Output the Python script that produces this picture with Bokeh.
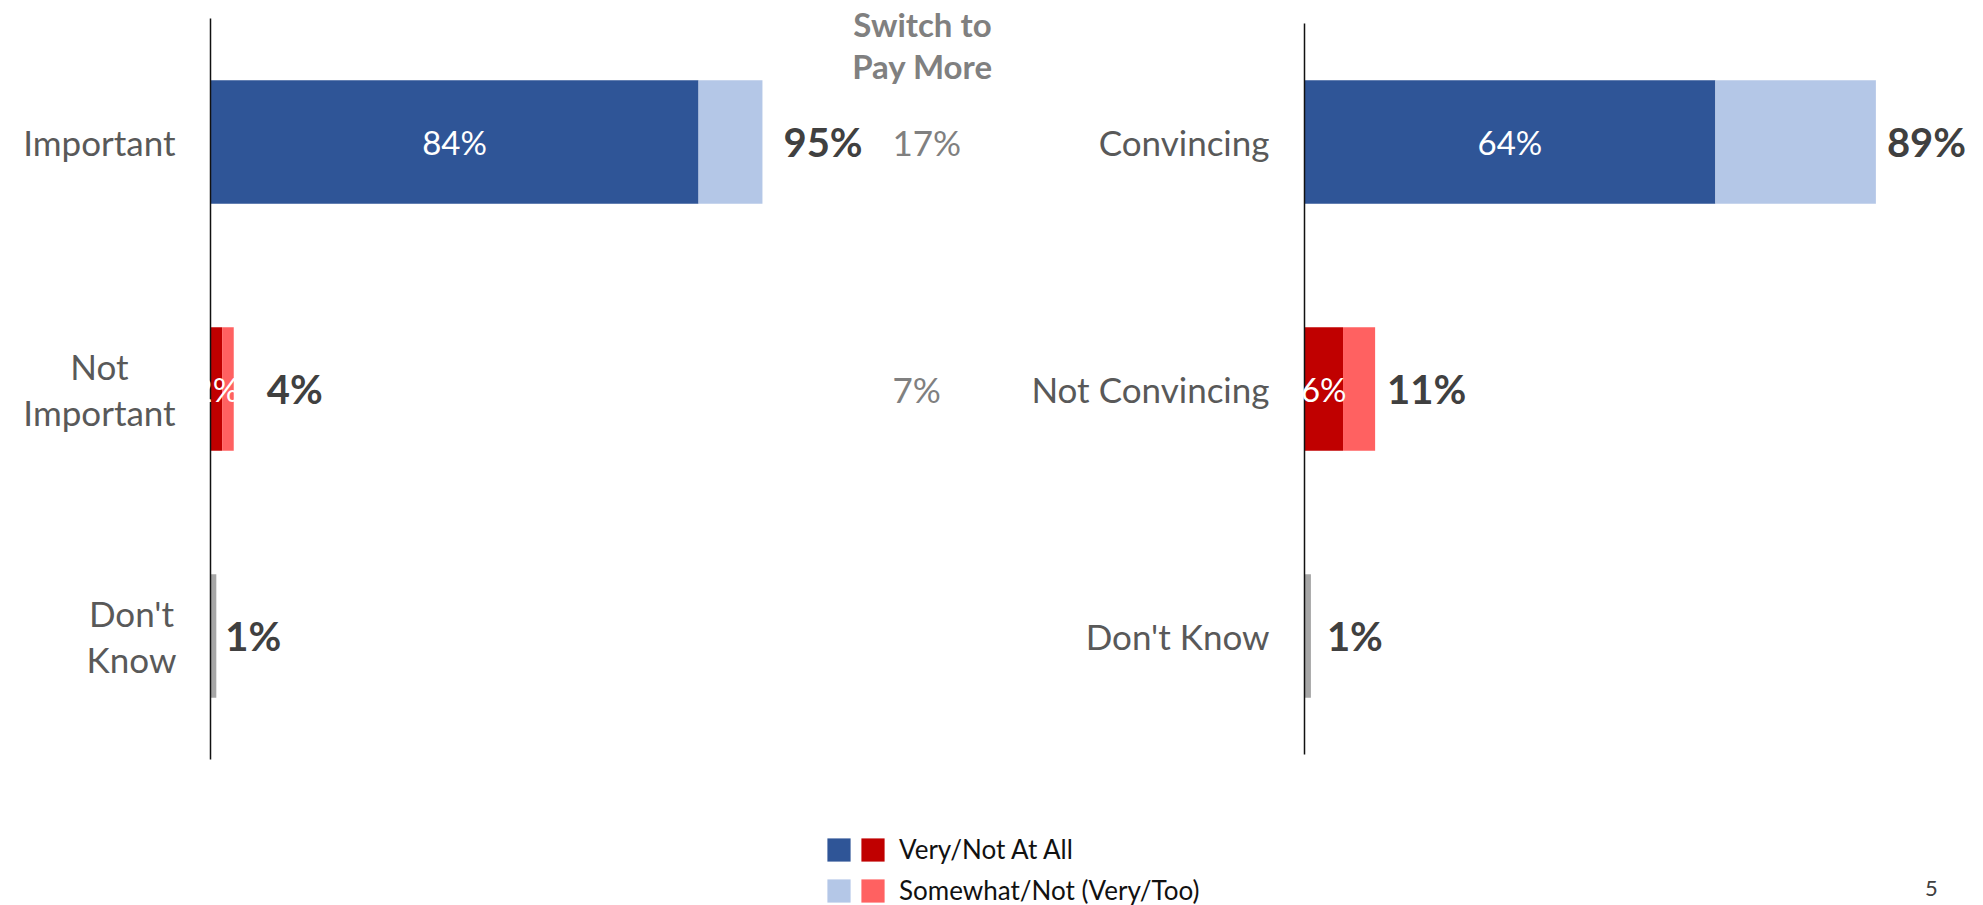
import pandas as pd
from bokeh.plotting import figure
from bokeh.models import ColumnDataSource, Range1d, Legend, LegendItem, Label
from bokeh.core.properties import value
from bokeh.embed import file_html
from bokeh.resources import INLINE

# ---------------- data ----------------
left_categories = ["Important", "Not\nImportant", "Don't\nKnow"]
left_strong = [84, 2, 1]      # Very / Not At All  (Don't Know shown as single grey bar)
left_mild = [11, 2, 0]        # Somewhat / Not (Very/Too)

switch_header = "Switch to\nPay More"
switch_values = [17, 7]

right_categories = ["Convincing", "Not Convincing", "Don't Know"]
right_strong = [64, 6, 1]
right_mild = [25, 5, 0]

legend_labels = ["Very/Not At All", "Somewhat/Not (Very/Too)"]
page_number = "5"

# ---------------- style / layout ----------------
W, H = 1983, 905
FONT = "Lato"
C_DARK = ["#2F5597", "#C00000", "#A6A6A6"]
C_LIGHT = ["#B4C7E7", "#FF6161", "#A6A6A6"]
CAT_COLOR = "#595959"
TOT_COLOR = "#404040"
SW_COLOR = "#808080"

L0, LPX = 210, 5.81     # left panel: zero-line pixel, pixels per percent
R0, RPX = 1304, 6.42    # right panel
ROW_TOP_PX, ROW_PITCH = 141.5, 247.0
N = 3
ypos = [N - i for i in range(N)]
bottom_center_px = ROW_TOP_PX + (N - 1) * ROW_PITCH

p = figure(width=W, height=H, output_backend="svg", toolbar_location=None,
           x_range=Range1d(-L0 / LPX, (W - L0) / LPX),
           y_range=Range1d(1 - (H - bottom_center_px) / ROW_PITCH, N + ROW_TOP_PX / ROW_PITCH),
           x_axis_type=None, y_axis_type=None, min_border=0,
           outline_line_color=None, background_fill_color="white",
           border_fill_color="white")
p.extra_x_ranges = {"right": Range1d(-R0 / RPX, (W - R0) / RPX)}
p.grid.visible = False


def panel(cats, strong, mild, rng, total_offsets, axis_span, cat_align, cat_offsets):
    df = pd.DataFrame({"y": ypos, "cat": cats, "strong": strong, "mild": mild})
    df["total"] = df["strong"] + df["mild"]
    df["mid"] = df["strong"] / 2
    df["c_dark"] = C_DARK
    df["c_light"] = C_LIGHT
    df["total_lbl"] = [f"{v}%" for v in df["total"]]
    df["strong_lbl"] = [f"{v}%" if i < N - 1 else "" for i, v in enumerate(df["strong"])]
    df["toff"] = total_offsets
    df["calign"] = cat_align
    df["coff"] = cat_offsets
    src = ColumnDataSource(df)
    kw = {} if rng is None else {"x_range_name": rng}
    r_dark = p.hbar(y="y", left=0, right="strong", height=0.5, fill_color="c_dark",
                    line_color=None, source=src, **kw)
    r_light = p.hbar(y="y", left="strong", right="total", height=0.5, fill_color="c_light",
                     line_color=None, source=src, **kw)
    p.segment(x0=0, x1=0, y0=axis_span[0], y1=axis_span[1], line_color="#111111",
              line_width=1.5, **kw)
    p.text(x=0, y="y", text="cat", source=src, x_offset="coff", text_align="calign",
           text_baseline="middle", text_font=value(FONT), text_font_size="35px",
           text_color=CAT_COLOR, text_line_height=1.1, **kw)
    p.text(x="mid", y="y", text="strong_lbl", source=src, text_align="center",
           text_baseline="middle", text_font=value(FONT), text_font_size="33px",
           text_color="white", **kw)
    p.text(x="total", y="y", text="total_lbl", source=src, x_offset="toff",
           text_align="left", text_baseline="middle", text_font=value(FONT),
           text_font_size="40px", text_font_style="bold", text_color=TOT_COLOR, **kw)
    return r_dark, r_light


rdL, rlL = panel(left_categories, left_strong, left_mild, None, [21, 33, 9],
                 (0.5, N + 0.5), ["right", "center", "center"], [-35, -111, -79])
panel(right_categories, right_strong, right_mild, "right", [11, 12, 16],
      (0.52, N + 0.48), ["right", "right", "right"], [-35, -35, -35])

# Switch to Pay More column (left panel coordinates)
SW_X = (892 - L0) / LPX
SW_HEAD_X = (922 - L0) / LPX
sw_src = ColumnDataSource(dict(y=ypos[:len(switch_values)],
                               t=[f"{v}%" for v in switch_values]))
p.text(x=SW_X, y="y", text="t", source=sw_src, text_align="left", text_baseline="middle",
       text_font=value(FONT), text_font_size="35px", text_color=SW_COLOR)
p.add_layout(Label(x=SW_HEAD_X, y=N + (ROW_TOP_PX - 44.5) / ROW_PITCH, text=switch_header,
                   text_align="center", text_baseline="middle", text_font=FONT,
                   text_font_size="33px", text_font_style="bold", text_color=SW_COLOR,
                   text_line_height=1.05))

# Legend: two side-by-side columns of swatches
common = dict(orientation="vertical", glyph_width=29, glyph_height=29, padding=0, margin=0,
              spacing=7, border_line_alpha=0, background_fill_alpha=0,
              label_text_font=FONT, label_text_font_size="26px", label_text_color="#111111",
              label_height=34)
legA = Legend(items=[LegendItem(label=" ", renderers=[rdL], index=0),
                     LegendItem(label=" ", renderers=[rlL], index=0)],
              location=(824, -2), label_standoff=0, label_width=0, **common)
legB = Legend(items=[LegendItem(label=legend_labels[0], renderers=[rdL], index=1),
                     LegendItem(label=legend_labels[1], renderers=[rlL], index=1)],
              location=(858, -2), label_standoff=12, **common)
p.add_layout(legA)
p.add_layout(legB)

p.add_layout(Label(x=1931, y=10, x_units="screen", y_units="screen", text=page_number,
                   text_align="center", text_baseline="bottom", text_font=FONT,
                   text_font_size="22px", text_color="#404040"))

open("out.html", "w").write(file_html(p, INLINE))
